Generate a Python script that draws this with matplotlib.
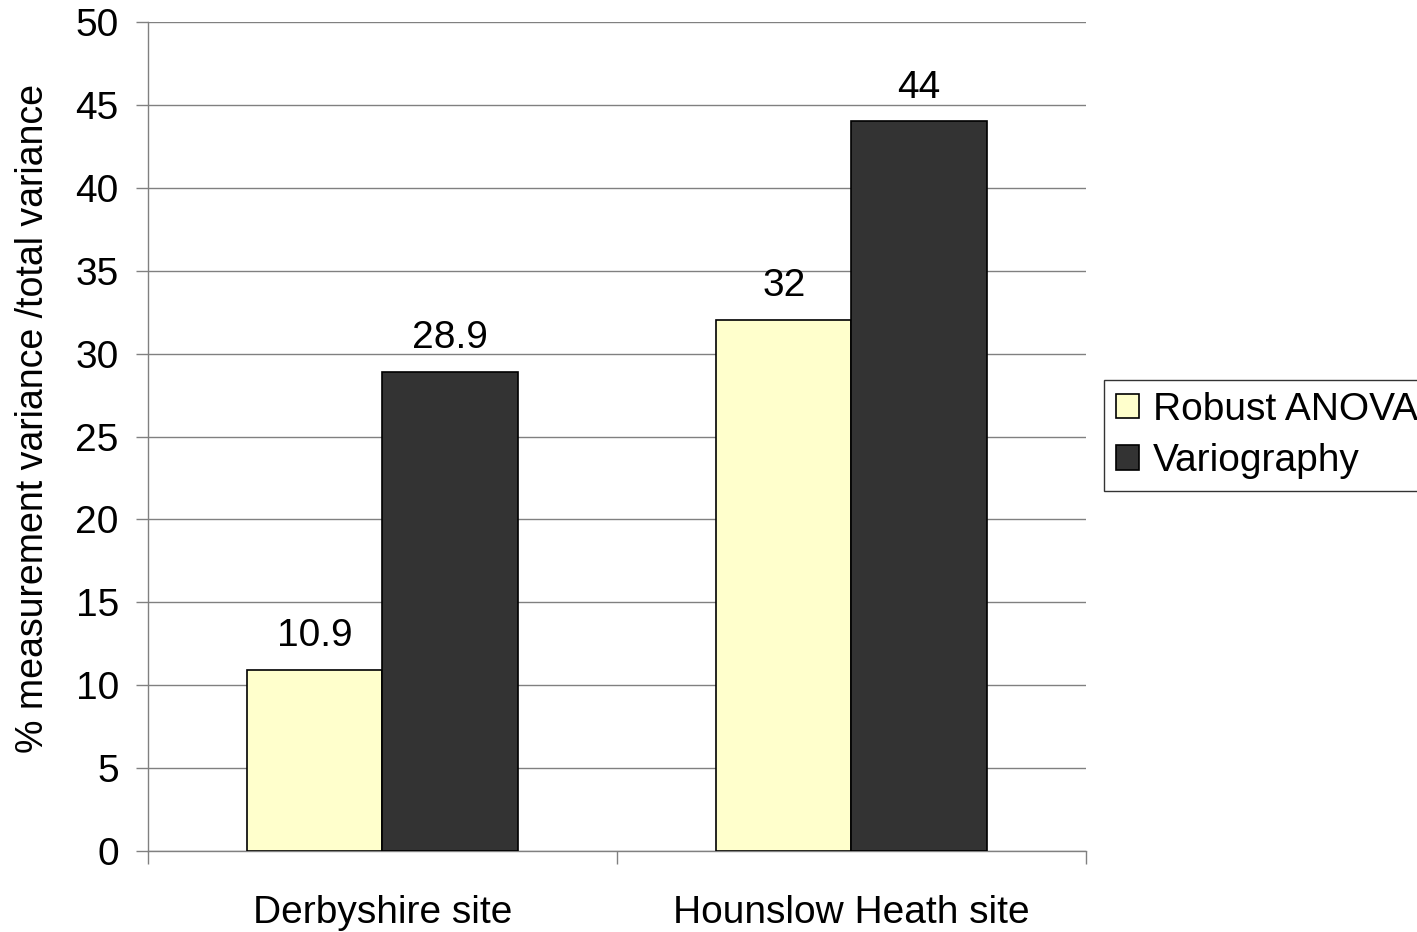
import matplotlib
matplotlib.use("Agg")
import matplotlib.pyplot as plt
import numpy as np
from matplotlib.ticker import FixedLocator, NullFormatter

plt.rcParams['font.family'] = ['Liberation Sans', 'DejaVu Sans']

sites = ["Derbyshire site", "Hounslow Heath site"]
series_names = ["Robust ANOVA", "Variography"]
robust_anova = [10.9, 32]
variography = [28.9, 44]
value_labels_robust = ["10.9", "32"]
value_labels_vario = ["28.9", "44"]

colors = ["#FFFFCC", "#333333"]
FS = 28

fig = plt.figure(figsize=(14.17, 9.32), dpi=100)
ax = fig.add_axes([0.1044, 0.0869, 0.662, 0.8895])

x = np.arange(len(sites))
w = 0.288
b1 = ax.bar(x - w / 2, robust_anova, w, color=colors[0], edgecolor="black",
            linewidth=1.2, label=series_names[0], zorder=3)
b2 = ax.bar(x + w / 2, variography, w, color=colors[1], edgecolor="black",
            linewidth=1.2, label=series_names[1], zorder=3)

for bars, texts in ((b1, value_labels_robust), (b2, value_labels_vario)):
    for rect, txt in zip(bars, texts):
        ax.annotate(txt, (rect.get_x() + rect.get_width() / 2, rect.get_height()),
                    xytext=(0, 11.5), textcoords="offset points",
                    ha="center", va="bottom", fontsize=FS)

ax.set_ylim(0, 50)
ax.set_yticks(np.arange(0, 51, 5))
ax.set_xlim(-0.5, 1.5)

# category boundaries get tick marks, labels sit at category centres
ax.xaxis.set_major_locator(FixedLocator([-0.5, 0.5, 1.5]))
ax.xaxis.set_major_formatter(NullFormatter())
ax.xaxis.set_minor_locator(FixedLocator(x))
ax.set_xticklabels(sites, minor=True)
ax.tick_params(axis="x", which="major", length=9, width=1, color="#808080")
ax.tick_params(axis="x", which="minor", length=0, pad=32, labelsize=FS)
ax.tick_params(axis="y", length=9, width=1, color="#808080", labelsize=FS, pad=12)

ax.yaxis.grid(True, color="#808080", linewidth=1, zorder=0)
ax.set_axisbelow(True)

for s in ["top", "right"]:
    ax.spines[s].set_visible(False)
ax.spines["left"].set_color("#808080")
ax.spines["bottom"].set_color("#808080")
ax.spines["left"].set_linewidth(1)
ax.spines["bottom"].set_linewidth(1)

ax.set_ylabel("% measurement variance /total variance", fontsize=27, labelpad=17.5)
ax.yaxis.label.set_y(0.522)

leg = ax.legend(loc="upper left", bbox_to_anchor=(1104 / 1417, 1 - 380 / 932),
                bbox_transform=fig.transFigure, fontsize=FS, frameon=True,
                fancybox=False, edgecolor="black", handlelength=0.6,
                handleheight=0.6, handletextpad=0.35, borderpad=0.3,
                labelspacing=0.4, borderaxespad=0)
leg.get_frame().set_linewidth(1)

fig.savefig("out.png", dpi=100)
